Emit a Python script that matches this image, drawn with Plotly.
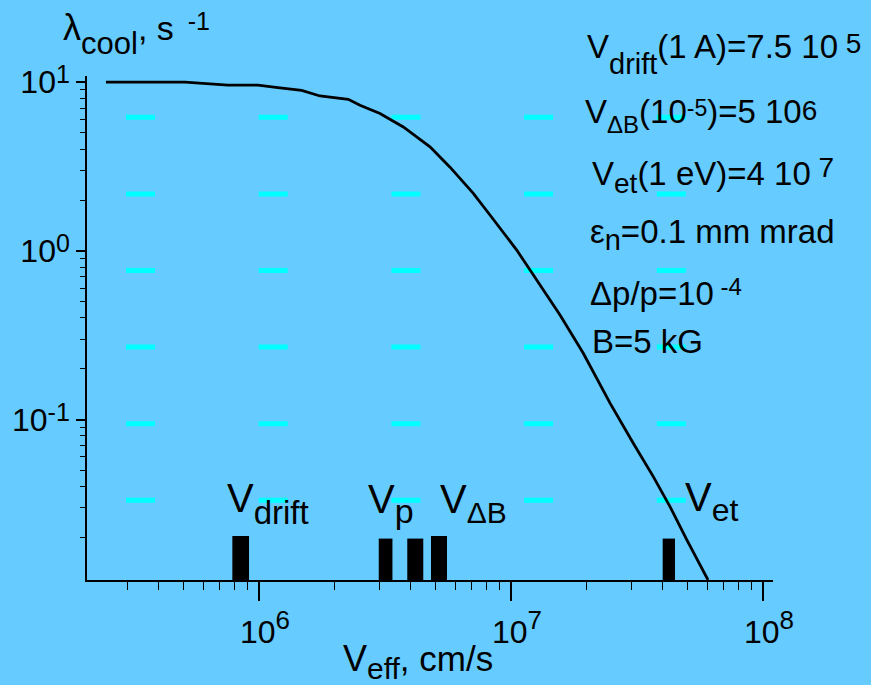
import math
import plotly.graph_objects as go

# ---------------- data ----------------
V_EFF = [2.47e5, 5.09e5, 7.53e5, 9.91e5, 1.211e6, 1.477e6, 1.746e6, 2.262e6,
         2.517e6, 3.021e6, 3.738e6, 4.771e6, 5.728e6, 7.087e6, 8.253e6,
         9.187e6, 1.054e7, 1.190e7, 1.344e7, 1.565e7, 1.936e7, 2.472e7,
         3.057e7, 3.670e7, 4.275e7, 4.98e7, 6.05e7]
LAMBDA_COOL = [10.0, 10.0, 9.58, 9.58, 9.23, 8.94, 8.27, 7.91,
               7.29, 6.51, 5.42, 4.13, 3.13, 2.19, 1.63,
               1.33, 1.01, 0.769, 0.585, 0.416, 0.247, 0.125,
               0.0724, 0.0459, 0.0305, 0.0194, 0.0112]

MARK_NAMES = ["V_drift", "V_p", "V_p (2)", "V_dB", "V_et"]
MARK_V = [8.46e5, 3.18e6, 4.17e6, 5.18e6, 4.23e7]
MARK_TOP = [0.0204, 0.0197, 0.0197, 0.0204, 0.0197]
MARK_WIDTHS = [16.7, 13.7, 16, 16, 12.3]   # style (px)

X_TICKS = [1e6, 1e7, 1e8]
X_EXP = ["6", "7", "8"]
Y_TICKS = [0.1, 1, 10]
Y_EXP = ["-1", "0", "1"]

X_RANGE_LOG = [5.3175, 8.0397]
Y_RANGE_LOG = [-1.951, 1.036]

# ---------------- layout geometry ----------------
FIG_W, FIG_H = 871, 685
L, R, T, B = 87, 773, 76, 580
W, H = R - L, B - T
FONT = "Liberation Sans, Arial, sans-serif"
BG = "#66CCFF"
ASC = 0.905


def rich(pieces):
    out = []
    for txt, size, shift in pieces:
        out.append(f'<span style="font-size:{size}px;baseline-shift:{shift}px">{txt}</span>')
    return "".join(out)


def label(px, baseline, pieces):
    top = min(baseline - shift - ASC * size for _, size, shift in pieces)
    return dict(xref="paper", yref="paper", x=(px - L) / W, y=(B - top) / H,
                xanchor="left", yanchor="top", text=rich(pieces), showarrow=False,
                font=dict(family=FONT, size=pieces[0][1], color="black"),
                borderpad=0, borderwidth=0)


fig = go.Figure()

# main curve
fig.add_trace(go.Scatter(x=V_EFF, y=LAMBDA_COOL, mode="lines",
                         line=dict(color="black", width=2.8), showlegend=False,
                         hoverinfo="skip"))

# marker bars
ybot = 10 ** Y_RANGE_LOG[0]
for name, v, top, w in zip(MARK_NAMES, MARK_V, MARK_TOP, MARK_WIDTHS):
    fig.add_trace(go.Scatter(x=[v, v], y=[ybot, top], mode="lines", name=name,
                             line=dict(color="black", width=w), showlegend=False,
                             hoverinfo="skip"))

# cyan dashed grid rows
shapes = []
for py in [117.3, 193.9, 270.5, 347.1, 423.7, 500.3]:
    shapes.append(dict(type="line", xref="paper", yref="paper",
                       x0=(126 - L) / W, x1=(690 - L) / W,
                       y0=(B - py) / H, y1=(B - py) / H,
                       line=dict(color="#00FFFF", width=5, dash="29px,103.7px"),
                       layer="below"))

x_minor = [k * 10 ** e for e in (5, 6, 7) for k in range(2, 10)
           if X_RANGE_LOG[0] < math.log10(k * 10 ** e) < X_RANGE_LOG[1]]
y_minor = [k * 10.0 ** e for e in (-2, -1, 0) for k in range(2, 10)
           if Y_RANGE_LOG[0] < math.log10(k * 10.0 ** e) < Y_RANGE_LOG[1]]

x_ticktext = [f'10<span style="font-size:26px;baseline-shift:14px">{e}</span>' for e in X_EXP]
y_ticktext = [f'10<span style="font-size:25px;baseline-shift:10px">{e}</span>' for e in Y_EXP]

annotations = [
    # y title
    label(63, 40, [("λ", 36, 0), ("cool", 31, -14), (", s", 34, 0), ("  -1", 25, 10)]),
    # x title
    label(343, 671, [("V", 36, 0), ("eff", 30, -8), (", cm/s", 35, 0)]),
    # right-hand parameters
    label(587, 58.3, [("V", 33, 0), ("drift", 29, -16), ("(1 A)=7.5 10", 33, 0), (" 5", 28, 5)]),
    label(585, 123.3, [("V", 33, 0), ("ΔB", 24, -10), ("(10", 33, 0), ("-5", 23, 7),
                       (")=5 10", 33, 0), ("6", 28, 3)]),
    label(592, 185, [("V", 33, 0), ("et", 28, -8), ("(1 eV)=4 10", 33, 0), (" 7", 28, 8)]),
    label(590, 243.3, [("ε", 33, 0), ("n", 29, -7), ("=0.1 mm mrad", 33, 0)]),
    label(590, 305, [("Δp/p=10", 33, 0), (" -4", 24, 10)]),
    label(592, 353.3, [("B=5 kG", 33, 0)]),
    # bar labels
    label(226.7, 511.7, [("V", 40, 0), ("drift", 33, -11.6)]),
    label(368.3, 513.3, [("V", 40, 0), ("p", 34, -10)]),
    label(440, 513.3, [("V", 40, 0), ("ΔB", 30, -9.5)]),
    label(685, 510.7, [("V", 40, 0), ("et", 32, -9.5)]),
]

axis_common = dict(showgrid=False, zeroline=False, showline=True, linecolor="black",
                   linewidth=1.5, ticks="outside", tickcolor="black", tickwidth=1.5,
                   tickfont=dict(family=FONT, size=32, color="black"))

fig.update_layout(
    width=FIG_W, height=FIG_H,
    margin=dict(l=L, r=FIG_W - R, t=T, b=FIG_H - B, pad=0),
    paper_bgcolor=BG, plot_bgcolor=BG,
    showlegend=False,
    xaxis=dict(type="log", range=X_RANGE_LOG, tickmode="array", tickvals=X_TICKS,
               ticktext=x_ticktext, ticklen=19, ticklabelshift=6, ticklabelstandoff=4,
               minor=dict(tickmode="array", tickvals=x_minor, ticklen=8,
                          tickwidth=1.2, tickcolor="black", ticks="outside",
                          showgrid=False),
               **axis_common),
    yaxis=dict(type="log", range=Y_RANGE_LOG, tickmode="array", tickvals=Y_TICKS,
               ticktext=y_ticktext, ticklen=9,
               minor=dict(tickmode="array", tickvals=y_minor, ticklen=5,
                          tickwidth=1.2, tickcolor="black", ticks="outside",
                          showgrid=False),
               **axis_common),
    shapes=shapes,
    annotations=annotations,
)

fig.write_html("out.html", config={"displayModeBar": False},
               post_script="document.body.style.margin='0';document.body.style.padding='0';")
